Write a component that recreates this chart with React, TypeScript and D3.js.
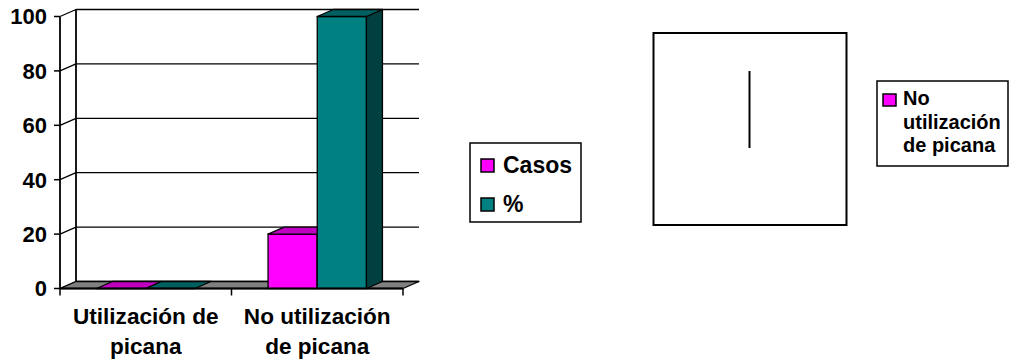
import React from "react";
import * as d3 from "d3";

const categories = ["Utilización de picana", "No utilización de picana"];
const categoryLines = [["Utilización de", "picana"], ["No utilización", "de picana"]];
const seriesNames = ["Casos", "%"];
const casos = [0, 20];
const porcentaje = [0, 100];
const yTicks = [0, 20, 40, 60, 80, 100];
const pieLabels = ["Utilización de picana", "No utilización de picana"];
const pieValues = [0, 20];
const pieLegendLines = ["No", "utilización", "de picana"];

const FONT = "'Liberation Sans', Arial, Helvetica, sans-serif";
const colors = {
  front: ["#FF00FF", "#008080"],
  top: ["#C000C0", "#006060"],
  side: ["#800080", "#004040"],
};

export default function App() {
  const W = 1009, H = 364;
  const x0 = 60, x1 = 403;
  const dx = 16, dy = -7;
  const y = d3.scaleLinear().domain([0, 100]).range([288.5, 16.5]);
  const xCat = d3.scaleBand<string>().domain(categories).range([x0, x1]).paddingInner(0).paddingOuter(0);
  const xSer = d3.scaleBand<string>().domain(seriesNames).range([0, xCat.bandwidth()]).paddingInner(0).paddingOuter(0.743);
  const seriesData = [casos, porcentaje];
  const base = y(0);

  const bars: React.ReactNode[] = [];
  categories.forEach((c, ci) => {
    seriesNames.forEach((s, si) => {
      const v = seriesData[si][ci];
      const bx = (xCat(c) as number) + (xSer(s) as number);
      const bw = xSer.bandwidth();
      const ty = y(v);
      const topPts = [[bx, ty], [bx + dx, ty + dy], [bx + bw + dx, ty + dy], [bx + bw, ty]];
      const sidePts = [[bx + bw, ty], [bx + bw + dx, ty + dy], [bx + bw + dx, base + dy], [bx + bw, base]];
      bars.push(
        <g key={c + s}>
          {v > 0 && (
            <rect x={bx} y={ty} width={bw} height={base - ty} fill={colors.front[si]} stroke="#000" strokeWidth={1.3} />
          )}
          {v > 0 && (
            <polygon points={sidePts.map((p) => p.join(",")).join(" ")} fill={colors.side[si]} stroke="#000" strokeWidth={1.3} strokeLinejoin="round" />
          )}
          <polygon points={topPts.map((p) => p.join(",")).join(" ")} fill={colors.top[si]} stroke="#000" strokeWidth={1.3} strokeLinejoin="round" />
        </g>
      );
    });
  });

  const floorPts = [[x0, base], [x0 + dx, base + dy], [x1 + dx, base + dy], [x1, base]];

  // pie
  const cx = 749.5, cy = 148, r = 77;
  const arcs = d3.pie<number>().sort(null)(pieValues);
  const zeroArc = arcs[0];
  const [px, py] = d3.pointRadial(zeroArc.startAngle, r);

  return (
    <svg width={W} height={H} style={{ position: "absolute", left: 0, top: 0, background: "#fff" }} fontFamily={FONT}>
      <rect x={0} y={0} width={W} height={H} fill="#fff" />
      {/* back wall gridlines */}
      {yTicks.map((t) => (
        <g key={t}>
          <line x1={x0 + dx} x2={x1 + dx} y1={y(t) + dy} y2={y(t) + dy} stroke="#000" strokeWidth={1.3} />
          <line x1={x0} x2={x0 + dx} y1={y(t)} y2={y(t) + dy} stroke="#000" strokeWidth={1.3} />
          <line x1={x0 - 6} x2={x0} y1={y(t)} y2={y(t)} stroke="#000" strokeWidth={1.5} />
          <text x={47} y={y(t)} dy="0.36em" textAnchor="end" fontSize={22} fontWeight="bold" fill="#000">{t}</text>
        </g>
      ))}
      <line x1={x0 + dx} x2={x0 + dx} y1={y(0) + dy} y2={y(100) + dy} stroke="#000" strokeWidth={1.8} />
      <line x1={x0} x2={x0} y1={y(0)} y2={y(100)} stroke="#000" strokeWidth={1.8} />
      {/* floor */}
      <polygon points={floorPts.map((p) => p.join(",")).join(" ")} fill="#808080" stroke="#000" strokeWidth={1.3} strokeLinejoin="round" />
      {bars}
      <line x1={x0} x2={x1} y1={base} y2={base} stroke="#000" strokeWidth={1.8} />
      {[x0, ...categories.map((c) => (xCat(c) as number) + xCat.bandwidth())].map((tx, i) => (
        <line key={i} x1={tx} x2={tx} y1={base} y2={base + 7} stroke="#000" strokeWidth={1.5} />
      ))}
      {categories.map((c, ci) => (
        <text key={c} x={(xCat(c) as number) + xCat.bandwidth() / 2} textAnchor="middle" fontSize={22.6} fontWeight="bold" fill="#000">
          {categoryLines[ci].map((ln, li) => (
            <tspan key={li} x={(xCat(c) as number) + xCat.bandwidth() / 2} y={324 + li * 30}>{ln}</tspan>
          ))}
        </text>
      ))}
      {/* legend 1 */}
      <rect x={470} y={143} width={111} height={79} fill="#fff" stroke="#000" strokeWidth={1.5} />
      {seriesNames.map((s, si) => (
        <g key={s}>
          <rect x={481} y={159 + si * 39} width={13} height={13} fill={colors.front[si]} stroke="#000" strokeWidth={1.5} />
          <text x={503} y={173 + si * 39} fontSize={23} fontWeight="bold" fill="#000">{s}</text>
        </g>
      ))}
      {/* pie area */}
      <rect x={653.5} y={33} width={193} height={192} fill="#fff" stroke="#000" strokeWidth={2} />
      <line x1={cx} y1={cy} x2={cx + px} y2={cy + py} stroke="#000" strokeWidth={2} />
      {/* legend 2 */}
      <rect x={877} y={81} width={131} height={85} fill="#fff" stroke="#000" strokeWidth={1.5} />
      <rect x={883} y={94} width={13} height={12} fill={colors.front[0]} stroke="#000" strokeWidth={1.5} />
      <text fontSize={20} fontWeight="bold" fill="#000">
        {pieLegendLines.map((ln, i) => (
          <tspan key={i} x={903} y={105 + i * 23.5}>{ln}</tspan>
        ))}
      </text>
      <title>{pieLabels[1]}</title>
    </svg>
  );
}
